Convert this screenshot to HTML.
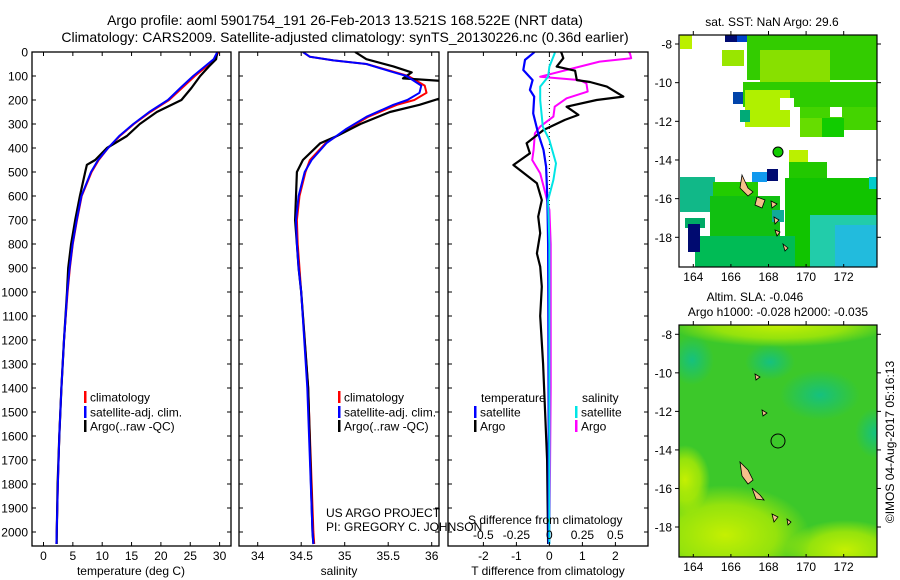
<!DOCTYPE html>
<html><head><meta charset="utf-8">
<style>
html,body{margin:0;padding:0;background:#fff;}
svg{display:block;font-family:"Liberation Sans",sans-serif;}
text{fill:#000;}
</style></head>
<body>
<svg id="fig" width="900" height="580" viewBox="0 0 900 580" xmlns="http://www.w3.org/2000/svg">
<rect width="900" height="580" fill="#fff"/>
<text x="345" y="25" font-size="14" text-anchor="middle">Argo profile: aoml 5901754_191 26-Feb-2013 13.521S 168.522E (NRT data)</text>
<text x="345" y="42" font-size="14" text-anchor="middle">Climatology: CARS2009. Satellite-adjusted climatology: synTS_20130226.nc (0.36d earlier)</text>
<g id="plots"></g>
<g id="maps"></g>
<text transform="translate(894,442) rotate(-90)" font-size="12" text-anchor="middle">©IMOS 04-Aug-2017 05:16:13</text>
</svg>
<script>
// ---------- data ----------
const depthTicks = [0,100,200,300,400,500,600,700,800,900,1000,1100,1200,1300,1400,1500,1600,1700,1800,1900,2000];
const tempTicks = [0,5,10,15,20,25,30];
const salTicks = [34,34.5,35,35.5,36];
const salTickLabels = ["34","34.5","35","35.5","36"];
const tdiffTicks = [-2,-1,0,1,2];
const sdiffTicks = [-0.5,-0.25,0,0.25,0.5];
const sdiffTickLabels = ["-0.5","-0.25","0","0.25","0.5"];

const tArgoDepth = [0,30,60,100,150,200,250,300,350,400,450,470,500,600,700,800,900,1000,1200,1400,1600,1800,2000,2050];
const tArgoVal   = [29.6,29.4,28.2,26.7,25.2,23.5,19.3,16.4,14.2,10.8,8.8,7.4,7.1,6.2,5.4,4.7,4.2,4.0,3.5,3.05,2.7,2.4,2.27,2.25];
const tClimDepth = [0,30,60,100,150,200,250,300,350,400,450,500,600,700,800,900,1000,1200,1400,1600,1800,2000,2050];
const tClimVal   = [29.8,29.2,27.8,25.8,23.6,21.4,18.2,15.4,13.0,11.0,9.4,8.2,6.5,5.7,5.0,4.5,4.1,3.5,3.05,2.7,2.45,2.25,2.2];
const tSatVal    = [29.6,29.0,27.5,25.5,23.3,21.2,18.0,15.3,12.9,11.0,9.3,8.1,6.45,5.65,4.95,4.45,4.05,3.5,3.05,2.7,2.45,2.25,2.2];

const sArgoDepth = [0,30,60,85,110,125,160,195,220,250,300,350,380,450,500,600,700,800,900,1000,1400,2000,2050];
const sArgoVal   = [35.12,35.25,35.56,35.77,35.67,36.3,36.3,36.08,35.86,35.52,35.18,34.91,34.72,34.52,34.45,34.44,34.43,34.45,34.47,34.5,34.58,34.63,34.64];
const sClimDepth = [0,20,35,50,80,100,140,170,200,220,270,320,380,450,500,600,700,800,900,1000,1400,2000,2050];
const sClimVal   = [34.52,34.6,34.87,35.25,35.54,35.73,35.92,35.94,35.8,35.6,35.27,35.04,34.78,34.6,34.55,34.48,34.45,34.46,34.48,34.5,34.58,34.64,34.65];
const sSatVal    = [34.52,34.6,34.87,35.25,35.52,35.71,35.88,35.86,35.72,35.56,35.25,35.02,34.79,34.62,34.54,34.47,34.44,34.45,34.47,34.5,34.57,34.63,34.64];

const dTsatDepth = [0,5,33,75,117,158,186,256,339,408,478,617,800,1200,1600,2050];
const dTsatVal   = [-0.45,-0.49,-0.74,-0.79,-0.51,-0.59,-0.46,-0.49,-0.34,-0.18,-0.10,-0.06,-0.04,-0.03,-0.02,-0.02];
const dTargoDepth = [0,5,26,61,78,117,125,144,186,200,228,262,283,325,380,422,471,492,547,617,686,755,839,894,978,1100,1300,1500,1700,2050];
const dTargoVal   = [0.35,0.37,0.42,0.22,0.78,0.83,1.23,1.74,2.24,1.43,0.52,0.88,0.47,-0.18,-0.69,-0.59,-1.09,-0.89,-0.38,-0.23,-0.34,-0.28,-0.38,-0.28,-0.23,-0.28,-0.19,-0.13,-0.07,-0.04];
const dSsatDepth = [0,5,61,103,144,200,311,367,464,533,617,800,1200,2050];
const dSsatVal   = [0.04,0.04,0.0,-0.01,-0.07,-0.07,-0.05,0.0,0.05,0.03,-0.01,0.0,0.0,0.0];
const dSargoDepth = [0,5,26,40,61,103,117,131,165,193,228,269,311,339,408,450,506,589,658,800,1400,2050];
const dSargoVal   = [0.6,0.61,0.62,0.38,0.23,-0.07,0.23,0.28,0.29,0.13,0.04,0.03,-0.07,-0.11,-0.12,-0.13,-0.07,-0.03,0.0,0.01,0.01,0.0];

// ---------- geometry ----------
const NS="http://www.w3.org/2000/svg";
const TOP=52, BOT=546;
const yD = d => TOP + d*0.24;
const xT = v => 43.5 + v*5.87;
const xS = v => 257.7 + (v-34)*87;
const xDT = v => 549.4 + v*33;
const xDS = v => 549.4 + v*132;
function mk(tag, attrs, parent){const e=document.createElementNS(NS,tag);for(const k in attrs)e.setAttribute(k,attrs[k]);parent.appendChild(e);return e;}
const plots=document.getElementById('plots');

const panels=[{x0:32,x1:231,name:'temperature-panel'},{x0:239,x1:439,name:'salinity-panel'},{x0:448,x1:648,name:'difference-panel'}];
panels.forEach((p,i)=>{
  const g=mk('g',{},plots);
  
  
  const cp=mk('clipPath',{id:'clip'+i},g);
  mk('rect',{x:p.x0,y:TOP,width:p.x1-p.x0,height:BOT-TOP},cp);
  p.g=g;
  p.clip='url(#clip'+i+')';
});

function line(panel, depths, vals, xf, color, w, name){
  let d='';
  depths.forEach((dp,i)=>{d+=(i?'L':'M')+xf(vals[i]).toFixed(1)+','+yD(dp).toFixed(1);});
  const e=mk('path',{d:d,fill:'none',stroke:color,'stroke-width':w,'clip-path':panel.clip,'stroke-linejoin':'round'},panel.g);
  
  
}
function frame(p){
  const r=mk('rect',{x:p.x0,y:TOP,width:p.x1-p.x0,height:BOT-TOP,fill:'none',stroke:'#000','stroke-width':1.3},p.g);
  
  
  depthTicks.forEach(d=>{
    mk('line',{x1:p.x0,x2:p.x0+4,y1:yD(d),y2:yD(d),stroke:'#000'},p.g);
    mk('line',{x1:p.x1-4,x2:p.x1,y1:yD(d),y2:yD(d),stroke:'#000'},p.g);
  });
}
function xticks(p, ticks, labels, xf){
  ticks.forEach((t,i)=>{
    const x=xf(t);
    mk('line',{x1:x,x2:x,y1:TOP,y2:TOP+4,stroke:'#000'},p.g);
    mk('line',{x1:x,x2:x,y1:BOT-4,y2:BOT,stroke:'#000'},p.g);
    const tx=mk('text',{x:x,y:560,'font-size':12,'text-anchor':'middle'},p.g);
    tx.textContent=labels[i];
    
    
  });
}
// panel 1
const P1=panels[0];
line(P1,tClimDepth,tClimVal,xT,'#ff0000',2,'temperature-climatology-line');
line(P1,tArgoDepth,tArgoVal,xT,'#000000',2.2,'temperature-argo-line');
line(P1,tClimDepth,tSatVal,xT,'#0000ff',2,'temperature-satellite-line');
frame(P1);
xticks(P1,tempTicks,tempTicks.map(String),xT);
depthTicks.forEach(d=>{
  const t=mk('text',{x:28,y:yD(d)+4.5,'font-size':12,'text-anchor':'end'},plots);
  t.textContent=String(d);
  
  
});
// panel 2
const P2=panels[1];
line(P2,sClimDepth,sClimVal,xS,'#ff0000',2,'salinity-climatology-line');
line(P2,sArgoDepth,sArgoVal,xS,'#000000',2.2,'salinity-argo-line');
line(P2,sClimDepth,sSatVal,xS,'#0000ff',2,'salinity-satellite-line');
frame(P2);
xticks(P2,salTicks,salTickLabels,xS);
// panel 3
const P3=panels[2];
const zl=mk('line',{x1:xDT(0),x2:xDT(0),y1:TOP,y2:BOT,stroke:'#000','stroke-dasharray':'1,3'},P3.g);


line(P3,dSargoDepth,dSargoVal,xDS,'#ff00ff',2,'salinity-diff-argo-line');
line(P3,dTargoDepth,dTargoVal,xDT,'#000000',2.2,'temperature-diff-argo-line');
line(P3,dTsatDepth,dTsatVal,xDT,'#0000ff',2.2,'temperature-diff-satellite-line');
line(P3,dSsatDepth,dSsatVal,xDS,'#00e5e5',2,'salinity-diff-satellite-line');
frame(P3);
xticks(P3,tdiffTicks,tdiffTicks.map(String),xDT);
sdiffTicks.forEach((t,i)=>{
  const tx=mk('text',{x:xDS(t),y:539,'font-size':12,'text-anchor':'middle'},P3.g);
  tx.textContent=sdiffTickLabels[i];
  
  
});

// legends
function legend(g, x, y, color, label){
  mk('rect',{x:x,y:y-6,width:2.5,height:12,fill:color},g);
  const t=mk('text',{x:x+6,y:y+4.5,'font-size':12},g);
  t.textContent=label;
  
  
}
legend(P1.g,84,397,'#ff0000','climatology');
legend(P1.g,84,412,'#0000ff','satellite-adj. clim.');
legend(P1.g,84,426,'#000000','Argo(..raw -QC)');
legend(P2.g,338,397,'#ff0000','climatology');
legend(P2.g,338,412,'#0000ff','satellite-adj. clim.');
legend(P2.g,338,426,'#000000','Argo(..raw -QC)');
legend(P3.g,474,412,'#0000ff','satellite');
legend(P3.g,474,426,'#000000','Argo');
legend(P3.g,575,412,'#00e5e5','satellite');
legend(P3.g,575,426,'#ff00ff','Argo');
</script>
<svg style="position:absolute;left:0;top:0" width="900" height="580" xmlns="http://www.w3.org/2000/svg" font-family="Liberation Sans, sans-serif">
<text x="481" y="402" font-size="12">temperature</text>
<text x="582" y="402" font-size="12">salinity</text>
<text x="326" y="517" font-size="12">US ARGO PROJECT</text>
<text x="326" y="531" font-size="12">PI: GREGORY C. JOHNSON</text>
<text x="468" y="524" font-size="12">S difference from climatology</text>
<text x="131" y="575" font-size="12" text-anchor="middle">temperature (deg C)</text>
<text x="339" y="575" font-size="12" text-anchor="middle">salinity</text>
<text x="548" y="575" font-size="12" text-anchor="middle">T difference from climatology</text>

<!-- SST map -->
<g>
<text x="772" y="26" font-size="12" text-anchor="middle">sat. SST: NaN Argo: 29.6</text>
<rect x="679" y="35" width="198" height="232" fill="#fff"/>
<rect x="680" y="35" width="12" height="14" fill="#bbf000"/>
<rect x="722" y="50" width="22" height="16" fill="#99e600"/>
<rect x="725" y="35" width="12" height="7" fill="#000a70"/>
<rect x="737" y="35" width="12" height="7" fill="#0044cc"/>
<rect x="747" y="35" width="130" height="45" fill="#33cc00"/>
<rect x="760" y="50" width="70" height="45" fill="#88e000"/>
<rect x="743" y="82" width="134" height="25" fill="#2ecc00"/>
<rect x="745" y="90" width="45" height="37" fill="#b0f000"/>
<rect x="800" y="107" width="77" height="23" fill="#44d400"/>
<rect x="800" y="118" width="22" height="19" fill="#66dd00"/>
<rect x="822" y="118" width="22" height="19" fill="#11cc00"/>
<rect x="830" y="107" width="12" height="10" fill="#fff"/>
<rect x="780" y="98" width="14" height="12" fill="#fff"/>
<rect x="733" y="92" width="10" height="12" fill="#0044aa"/>
<rect x="740" y="110" width="10" height="12" fill="#00aa77"/>
<rect x="789" y="150" width="19" height="15" fill="#bbf000"/>
<rect x="789" y="162" width="38" height="30" fill="#22c800"/>
<rect x="785" y="178" width="92" height="89" fill="#11c400"/>
<rect x="810" y="215" width="67" height="52" fill="#22ccaa"/>
<rect x="835" y="225" width="42" height="42" fill="#22bbdd"/>
<rect x="869" y="177" width="8" height="12" fill="#00cccc"/>
<rect x="680" y="177" width="35" height="35" fill="#11b888"/>
<rect x="713" y="182" width="45" height="25" fill="#22cc00"/>
<rect x="710" y="196" width="70" height="45" fill="#11c011"/>
<rect x="695" y="236" width="100" height="31" fill="#00bb55"/>
<rect x="685" y="218" width="20" height="10" fill="#00aa66"/>
<rect x="688" y="224" width="12" height="28" fill="#000a70"/>
<rect x="767" y="169" width="11" height="12" fill="#000a70"/>
<rect x="752" y="172" width="15" height="10" fill="#1199ee"/>
<rect x="772" y="210" width="12" height="12" fill="#11aa99"/>
<path d="M742,175 L748,188 L753,192 L748,196 L740,188 Z M757,197 L765,200 L762,208 L755,205 Z M771,201 L777,204 L772,208 Z M774,217 L779,220 L775,224 Z M775,230 L780,232 L777,236 Z M783,244 L788,248 L785,251 Z" fill="#f5c08a" stroke="#000" stroke-width="0.8"/>
<circle cx="778" cy="152" r="5" fill="#11cc00" stroke="#000" stroke-width="1"/>
<rect x="679" y="35" width="198" height="232" fill="none" stroke="#000" stroke-width="1.2"/>
</g>

<!-- SLA map -->
<defs>
<radialGradient id="yl" cx="0.5" cy="0.5" r="0.5"><stop offset="0" stop-color="#ccf200" stop-opacity="0.95"/><stop offset="0.6" stop-color="#bbee00" stop-opacity="0.7"/><stop offset="1" stop-color="#bbee00" stop-opacity="0"/></radialGradient>
<radialGradient id="tl" cx="0.5" cy="0.5" r="0.5"><stop offset="0" stop-color="#11c088" stop-opacity="0.9"/><stop offset="1" stop-color="#11c088" stop-opacity="0"/></radialGradient>
<clipPath id="slaclip"><rect x="679" y="325" width="198" height="232"/></clipPath>
</defs>
<g>
<text x="755" y="301" font-size="12" text-anchor="middle">Altim. SLA: -0.046</text>
<text x="778" y="316" font-size="12" text-anchor="middle">Argo h1000: -0.028 h2000: -0.035</text>
<g clip-path="url(#slaclip)">
<rect x="679" y="325" width="198" height="232" fill="#3cc82a"/>
<ellipse cx="725" cy="535" rx="85" ry="50" fill="url(#yl)"/>
<ellipse cx="845" cy="550" rx="60" ry="30" fill="url(#yl)"/>
<ellipse cx="780" cy="325" rx="110" ry="22" fill="url(#yl)"/>
<ellipse cx="685" cy="480" rx="25" ry="35" fill="url(#yl)"/>
<ellipse cx="692" cy="360" rx="22" ry="25" fill="url(#tl)"/>
<ellipse cx="770" cy="362" rx="25" ry="18" fill="url(#tl)"/>
<ellipse cx="820" cy="395" rx="40" ry="25" fill="url(#tl)"/>
<ellipse cx="875" cy="433" rx="20" ry="25" fill="url(#tl)"/>
</g>
<path d="M740,462 L748,470 L753,480 L748,484 L742,476 Z M752,488 L760,495 L764,500 L756,499 Z M772,514 L778,517 L774,522 Z M762,410 L767,413 L763,416 Z M755,374 L760,377 L756,380 Z M787,519 L791,522 L788,525 Z" fill="#f5c08a" stroke="#000" stroke-width="0.8"/>
<circle cx="778" cy="441" r="7" fill="none" stroke="#000" stroke-width="1"/>
<rect x="679" y="325" width="198" height="232" fill="none" stroke="#000" stroke-width="1.2"/>
</g>
<g id="maplabels" font-size="12"></g>
</svg>
<script>
const lonTicks=[164,166,168,170,172];
const latTicks=[-8,-10,-12,-14,-16,-18];
const xLon = v => 693.3 + (v-164)*18.8;
const yLat1 = v => 44 + (-8-v)*19.33;
const yLat2 = v => 334.3 + (-8-v)*19.27;
const ml=document.getElementById('maplabels');
const N2="http://www.w3.org/2000/svg";
function el(tag,a){const e=document.createElementNS(N2,tag);for(const k in a)e.setAttribute(k,a[k]);ml.appendChild(e);return e;}
lonTicks.forEach(v=>{
  [[35,267,281],[325,557,571]].forEach(([t,b,ly])=>{
    el('line',{x1:xLon(v),x2:xLon(v),y1:t-4,y2:t,stroke:'#000'});
    el('line',{x1:xLon(v),x2:xLon(v),y1:b,y2:b-3,stroke:'#000'});
    const tx=el('text',{x:xLon(v),y:ly,'text-anchor':'middle'});
    tx.textContent=String(v);
    
    
  });
});
latTicks.forEach(v=>{
  [yLat1(v),yLat2(v)].forEach(y=>{
    el('line',{x1:675,x2:679,y1:y,y2:y,stroke:'#000'});
    el('line',{x1:877,x2:881,y1:y,y2:y,stroke:'#000'});
    const tx=el('text',{x:672,y:y+4.5,'text-anchor':'end'});
    tx.textContent=String(v);
    
    
  });
});
</script>
</body></html>
